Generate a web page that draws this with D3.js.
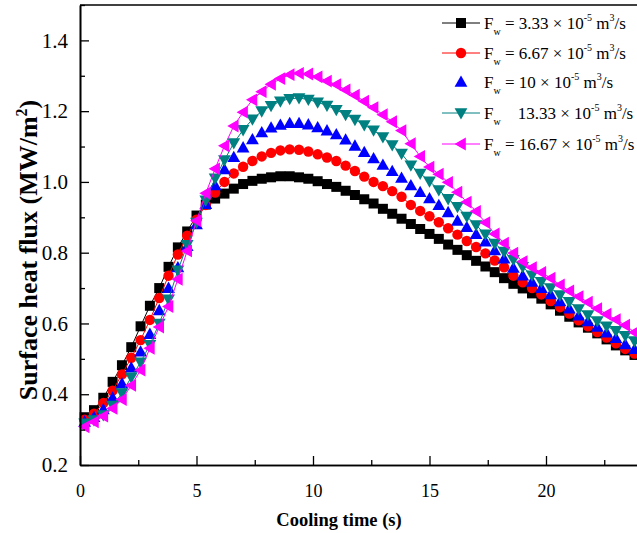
<!DOCTYPE html>
<html>
<head>
<meta charset="utf-8">
<script src="https://cdn.jsdelivr.net/npm/d3@7"></script>
<style>
body { margin: 0; background: #fff; }
svg { display: block; }
text { font-family: "Liberation Serif", "Times New Roman", serif; fill: #000; }
</style>
</head>
<body>
<svg id="chart" width="637" height="533"></svg>
<script>
// cooling time (s) of every marker
var time_s = [0.2, 0.6, 1.0, 1.4, 1.8, 2.2, 2.6, 3.0, 3.4, 3.8, 4.2, 4.6, 5.0, 5.4, 5.8, 6.2, 6.6, 7.0, 7.4, 7.8,
    8.2, 8.6, 9.0, 9.4, 9.8, 10.2, 10.6, 11.0, 11.4, 11.8, 12.2, 12.6, 13.0, 13.4, 13.8, 14.2, 14.6, 15.0, 15.4, 15.8,
    16.2, 16.6, 17.0, 17.4, 17.8, 18.2, 18.6, 19.0, 19.4, 19.8, 20.2, 20.6, 21.0, 21.4, 21.8, 22.2, 22.6, 23.0, 23.4, 23.8];

// surface heat flux (MW/m2), one list per water flow rate
var flux_3_33 = [0.335, 0.355, 0.390, 0.435, 0.482, 0.533, 0.592, 0.650, 0.700, 0.760, 0.815, 0.860, 0.905, 0.936, 0.953, 0.967, 0.981, 0.994, 1.003, 1.009,
    1.013, 1.016, 1.016, 1.013, 1.009, 1.002, 0.994, 0.986, 0.975, 0.963, 0.951, 0.939, 0.924, 0.910, 0.896, 0.881, 0.867, 0.853, 0.839, 0.823,
    0.808, 0.793, 0.777, 0.761, 0.745, 0.728, 0.712, 0.699, 0.685, 0.670, 0.654, 0.636, 0.619, 0.603, 0.588, 0.572, 0.555, 0.538, 0.524, 0.511];
var flux_6_67 = [0.328, 0.345, 0.375, 0.410, 0.456, 0.503, 0.553, 0.610, 0.672, 0.735, 0.795, 0.848, 0.893, 0.935, 0.970, 1.000, 1.024, 1.043, 1.059, 1.072,
    1.082, 1.089, 1.092, 1.091, 1.086, 1.078, 1.069, 1.059, 1.046, 1.031, 1.015, 1.000, 0.988, 0.974, 0.958, 0.935, 0.918, 0.903, 0.886, 0.869,
    0.851, 0.833, 0.816, 0.798, 0.778, 0.759, 0.735, 0.716, 0.700, 0.682, 0.663, 0.646, 0.628, 0.609, 0.592, 0.576, 0.560, 0.544, 0.528, 0.515];
var flux_10 = [0.322, 0.335, 0.357, 0.390, 0.430, 0.475, 0.520, 0.570, 0.637, 0.700, 0.758, 0.818, 0.880, 0.937, 0.990, 1.035, 1.070, 1.097, 1.120, 1.140,
    1.153, 1.161, 1.166, 1.166, 1.162, 1.154, 1.145, 1.134, 1.119, 1.102, 1.084, 1.066, 1.048, 1.030, 1.011, 0.990, 0.971, 0.953, 0.934, 0.914,
    0.890, 0.872, 0.852, 0.831, 0.806, 0.783, 0.757, 0.735, 0.717, 0.700, 0.682, 0.662, 0.642, 0.622, 0.606, 0.590, 0.574, 0.558, 0.541, 0.527];
var flux_13_33 = [0.318, 0.327, 0.341, 0.368, 0.403, 0.448, 0.490, 0.540, 0.600, 0.668, 0.750, 0.822, 0.885, 0.948, 1.010, 1.062, 1.110, 1.147, 1.177, 1.200,
    1.215, 1.228, 1.235, 1.237, 1.233, 1.225, 1.216, 1.204, 1.190, 1.176, 1.161, 1.146, 1.127, 1.104, 1.080, 1.047, 1.024, 1.002, 0.977, 0.952,
    0.930, 0.902, 0.878, 0.852, 0.826, 0.803, 0.780, 0.760, 0.736, 0.718, 0.700, 0.680, 0.661, 0.641, 0.624, 0.607, 0.592, 0.579, 0.565, 0.550];
var flux_16_67 = [0.308, 0.322, 0.338, 0.360, 0.385, 0.425, 0.468, 0.530, 0.590, 0.648, 0.725, 0.805, 0.890, 0.968, 1.037, 1.102, 1.158, 1.197, 1.232, 1.255,
    1.276, 1.292, 1.303, 1.307, 1.305, 1.297, 1.285, 1.275, 1.260, 1.245, 1.228, 1.210, 1.190, 1.170, 1.145, 1.108, 1.072, 1.042, 1.022, 0.999,
    0.971, 0.943, 0.917, 0.885, 0.853, 0.827, 0.799, 0.775, 0.758, 0.744, 0.728, 0.709, 0.692, 0.676, 0.660, 0.642, 0.626, 0.611, 0.595, 0.575];

// legend text pieces
var flow_values = ["3.33", "6.67", "10", "13.33", "16.67"];
var flow_signs = ["=", "=", "=", "\u00a0\u00a0", "="];
var series_colors = ["#000000", "#ff0000", "#0000ff", "#008080", "#ff00ff"];
var series_shapes = ["square", "circle", "up", "down", "left"];
var series_has_line = [true, true, false, true, true];

var x_ticks = [0, 5, 10, 15, 20];
var x_minor_ticks = [2.5, 7.5, 12.5, 17.5, 22.5];
var y_ticks = [0.2, 0.4, 0.6, 0.8, 1.0, 1.2, 1.4];
var y_minor_ticks = [0.3, 0.5, 0.7, 0.9, 1.1, 1.3, 1.5];

var all_series = [flux_3_33, flux_6_67, flux_10, flux_13_33, flux_16_67];

var svg = d3.select("#chart");
var left = 80, top_y = 5, bottom = 465;

var x = d3.scaleLinear().domain([0, 24]).range([left, left + 24 * 23.3]);
var y = d3.scaleLinear().domain([0.2, 1.5]).range([bottom, top_y]);

function marker_path(p_shape)
{
    if(p_shape == "square")
    {
        return d3.symbol().type(d3.symbolSquare).size(100)();
    }
    if(p_shape == "circle")
    {
        return d3.symbol().type(d3.symbolCircle).size(85)();
    }
    if(p_shape == "up")
    {
        return "M0,-6.5L6.4,4.8L-6.4,4.8Z";
    }
    if(p_shape == "down")
    {
        return "M0,6.5L6.4,-4.8L-6.4,-4.8Z";
    }
    return "M-6.5,0L4.8,-6.4L4.8,6.4Z";
}

// series
var line_gen = d3.line().x(function(d) { return x(d[0]); }).y(function(d) { return y(d[1]); });

for(var s = 0; s < all_series.length; s++)
{
    var pts = time_s.map(function(t, i) { return [t, all_series[s][i]]; });
    var g = svg.append("g");
    if(series_has_line[s])
    {
        g.append("path")
            .attr("d", line_gen(pts))
            .attr("fill", "none")
            .attr("stroke", series_colors[s])
            .attr("stroke-width", 1);
    }
    g.selectAll("path.mk")
        .data(pts)
        .enter()
        .append("path")
        .attr("class", "mk")
        .attr("d", marker_path(series_shapes[s]))
        .attr("transform", function(d) { return "translate(" + x(d[0]) + "," + y(d[1]) + ")"; })
        .attr("fill", series_colors[s]);
}

// axes (ticks point inward)
var x_axis = svg.append("g")
    .attr("transform", "translate(0," + bottom + ")")
    .call(d3.axisBottom(x).tickValues(x_ticks).tickSizeInner(-9).tickSizeOuter(0).tickPadding(19).tickFormat(d3.format("d")));
var x_minor = svg.append("g")
    .attr("transform", "translate(0," + bottom + ")")
    .call(d3.axisBottom(x).tickValues(x_minor_ticks).tickSizeInner(-5).tickSizeOuter(0).tickFormat(""));
var y_axis = svg.append("g")
    .attr("transform", "translate(" + left + ",0)")
    .call(d3.axisLeft(y).tickValues(y_ticks).tickSizeInner(-9).tickSizeOuter(0).tickPadding(12).tickFormat(d3.format(".1f")));
var y_minor = svg.append("g")
    .attr("transform", "translate(" + left + ",0)")
    .call(d3.axisLeft(y).tickValues(y_minor_ticks).tickSizeInner(-5).tickSizeOuter(0).tickFormat(""));

svg.selectAll(".domain").attr("stroke", "#000").attr("stroke-width", 1.6);
svg.selectAll(".tick line").attr("stroke", "#000").attr("stroke-width", 1.3);
x_axis.selectAll(".tick text").attr("font-family", "Liberation Serif").attr("font-size", 18).attr("fill", "#000");
y_axis.selectAll(".tick text").attr("font-family", "Liberation Serif").attr("font-size", 21).attr("fill", "#000");

// frame: top and right edges
svg.append("line").attr("x1", left).attr("x2", x(24)).attr("y1", top_y).attr("y2", top_y)
    .attr("stroke", "#000").attr("stroke-width", 1.6);
svg.append("line").attr("x1", x(24)).attr("x2", x(24)).attr("y1", top_y).attr("y2", bottom)
    .attr("stroke", "#000").attr("stroke-width", 1.6);

// axis titles
svg.append("text")
    .attr("x", 339).attr("y", 526)
    .attr("text-anchor", "middle")
    .attr("font-size", 18.5).attr("font-weight", "bold")
    .text("Cooling time (s)");

var y_title = svg.append("text")
    .attr("transform", "translate(37,250) rotate(-90)")
    .attr("text-anchor", "middle")
    .attr("font-size", 26).attr("font-weight", "bold");
y_title.append("tspan").text("Surface heat flux (MW/m");
y_title.append("tspan").attr("dy", -10).attr("font-size", 16).text("2");
y_title.append("tspan").attr("dy", 10).text(")");

// legend
var legend_rows = [23, 53, 82, 113, 144];
for(var k = 0; k < flow_values.length; k++)
{
    var lg = svg.append("g").attr("transform", "translate(0," + legend_rows[k] + ")");
    if(series_has_line[k])
    {
        lg.append("line").attr("x1", 442).attr("x2", 480).attr("y1", 0).attr("y2", 0)
            .attr("stroke", series_colors[k]).attr("stroke-width", 1);
    }
    lg.append("path").attr("d", marker_path(series_shapes[k]))
        .attr("transform", "translate(461,0)")
        .attr("fill", series_colors[k]);
    var t = lg.append("text").attr("x", 484).attr("y", 6).attr("font-size", 17);
    t.append("tspan").text("F");
    t.append("tspan").attr("dy", 6).attr("font-size", 10).text("w");
    t.append("tspan").attr("dy", -6).text(" " + flow_signs[k] + " " + flow_values[k] + " \u00d7 10");
    t.append("tspan").attr("dy", -8).attr("font-size", 10).text("-5");
    t.append("tspan").attr("dy", 8).text(" m");
    t.append("tspan").attr("dy", -8).attr("font-size", 10).text("3");
    t.append("tspan").attr("dy", 8).text("/s");
}
</script>
</body>
</html>
